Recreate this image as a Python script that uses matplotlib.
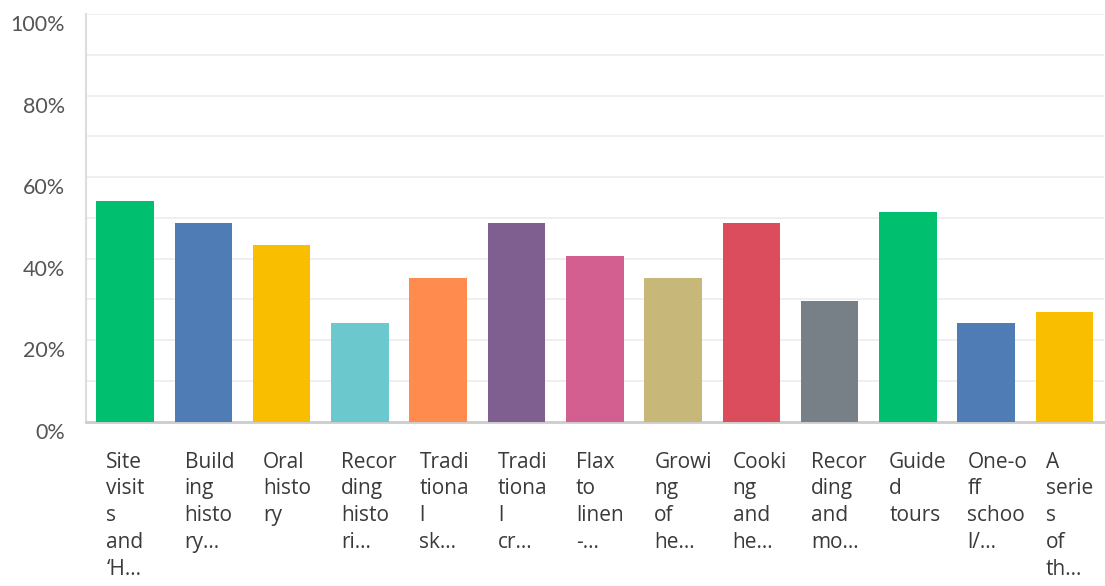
import matplotlib
matplotlib.use("Agg")
import matplotlib.pyplot as plt
import matplotlib.transforms as mtransforms

categories = [
    "Site\nvisit\ns\nand\n\u2018H...",
    "Build\ning\nhisto\nry...",
    "Oral\nhisto\nry",
    "Recor\nding\nhisto\nri...",
    "Tradi\ntiona\nl\nsk...",
    "Tradi\ntiona\nl\ncr...",
    "Flax\nto\nlinen\n-...",
    "Growi\nng\nof\nhe...",
    "Cooki\nng\nand\nhe...",
    "Recor\nding\nand\nmo...",
    "Guide\nd\ntours",
    "One-o\nff\nschoo\nl/...",
    "A\nserie\ns\nof\nth...",
]
values = [54.05, 48.65, 43.24, 24.32, 35.14, 48.65, 40.54, 35.14, 48.65, 29.73, 51.35, 24.32, 27.03]
colors = ["#00BF6F", "#507CB6", "#F9BE00", "#6BC8CD", "#FF8B4F", "#7F5F90",
          "#D25F90", "#C7B879", "#DB4D5C", "#768086", "#00BF6F", "#507CB6", "#F9BE00"]
yticks = [0, 20, 40, 60, 80, 100]
ytick_labels = ["0%", "20%", "40%", "60%", "80%", "100%"]

fig = plt.figure(figsize=(11.05, 5.86), dpi=100)
ax = fig.add_axes([0.0778, 0.2804, 0.921, 0.6954])

x = list(range(len(values)))
ax.bar(x, values, width=0.735, color=colors, zorder=3)
ax.set_xlim(-0.5, len(values) - 0.5)
ax.set_ylim(0, 100)

for v in range(10, 101, 10):
    ax.axhline(v, color="#ececec", lw=1.2, zorder=1)

ax.set_yticks(yticks)
ax.set_yticklabels(ytick_labels, fontsize=15.5, color="#555555", family="Lato")
ax.tick_params(axis="y", length=0, pad=15)
off = mtransforms.ScaledTranslation(0, -9 / 100, fig.dpi_scale_trans)
for lab in ax.get_yticklabels():
    lab.set_transform(lab.get_transform() + off)

ax.set_xticks([])
for i, lab in enumerate(categories):
    ax.annotate(lab, xy=(i - 0.3675, 0), xycoords=("data", "axes fraction"),
                xytext=(10, -30), textcoords="offset pixels",
                ha="left", va="top", fontsize=15, color="#3a3a3a",
                family="Open Sans", linespacing=1.36)

for s in ["top", "right"]:
    ax.spines[s].set_visible(False)
ax.spines["left"].set_color("#dddddd")
ax.spines["left"].set_linewidth(1.5)
ax.spines["bottom"].set_color("#cccccc")
ax.spines["bottom"].set_linewidth(2)

fig.savefig("out.png", dpi=100)
